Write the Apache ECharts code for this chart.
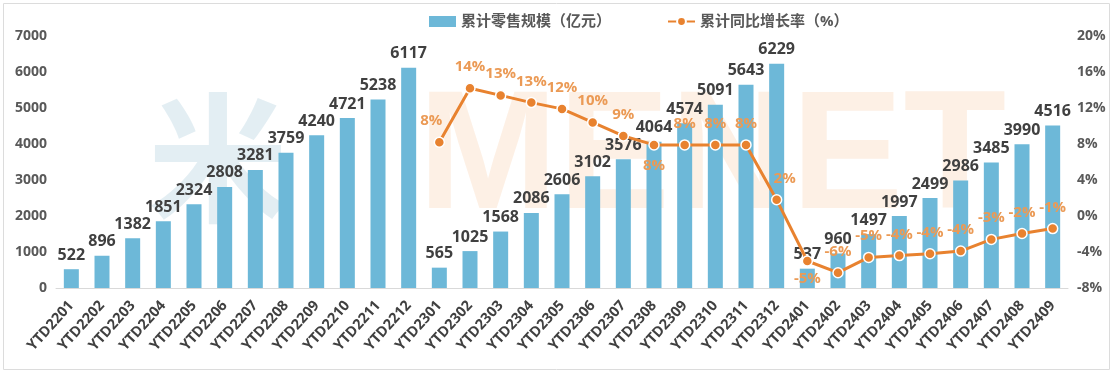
<!DOCTYPE html>
<html>
<head>
<meta charset="utf-8">
<script src="https://cdn.jsdelivr.net/npm/echarts@6/dist/echarts.min.js"></script>
<style>
  html, body { margin: 0; padding: 0; background: #fff; }
  #chart { width: 1114px; height: 375px; }
</style>
</head>
<body>
<div id="chart"></div>
<script>
// months, YTD
const categories = [
  'YTD2201', 'YTD2202', 'YTD2203', 'YTD2204', 'YTD2205', 'YTD2206', 'YTD2207', 'YTD2208', 'YTD2209', 'YTD2210', 'YTD2211', 'YTD2212',
  'YTD2301', 'YTD2302', 'YTD2303', 'YTD2304', 'YTD2305', 'YTD2306', 'YTD2307', 'YTD2308', 'YTD2309', 'YTD2310', 'YTD2311', 'YTD2312',
  'YTD2401', 'YTD2402', 'YTD2403', 'YTD2404', 'YTD2405', 'YTD2406', 'YTD2407', 'YTD2408', 'YTD2409'
]
// 累计零售规模 (亿元)
const retailScale = [
  522, 896, 1382, 1851, 2324, 2808, 3281, 3759, 4240, 4721, 5238, 6117,
  565, 1025, 1568, 2086, 2606, 3102, 3576, 4064, 4574, 5091, 5643, 6229,
  537, 960, 1497, 1997, 2499, 2986, 3485, 3990, 4516
]
// 累计同比增长率 (%), no value for 2022
const yoyGrowth = [
  null, null, null, null, null, null, null, null, null, null, null, null,
  8.2, 14.2, 13.4, 12.6, 11.9, 10.4, 8.9, 7.9, 7.9, 7.9, 7.9, 1.8,
  -5.0, -6.3, -4.6, -4.4, -4.2, -3.9, -2.6, -1.95, -1.4
]
const leftTicks = [0, 7000, 1000]
const rightTicks = [-8, 20, 4]

const font = "'Open Sans', 'Noto Sans CJK SC', sans-serif"
const blue = '#6db8d8'
const orange = '#e8822f'
const labelOrange = '#eb9a55'

// a few labels sit below the point or to a side
const labelTweaks = {
  12: {offset: [-8, 0]},
  19: {position: 'bottom', distance: 8},
  23: {offset: [8, 0]},
  24: {position: 'bottom', distance: 4}
}

let lineData = yoyGrowth.map((v, i) => {
  if (labelTweaks[i]) return {value: v, label: labelTweaks[i]}
  return v
})

var chart = echarts.init(document.getElementById('chart'), null, {renderer: 'canvas'})

var option = {
  animation: false,
  textStyle: {fontFamily: font},
  graphic: [
    {
      type: 'rect', z: 0, silent: true,
      shape: {x: 3.5, y: 3.5, width: 1106, height: 366},
      style: {fill: 'none', stroke: '#dcdcdc', lineWidth: 1}
    },
    {
      type: 'text', z: 0, silent: true, left: 148, top: 88,
      style: {text: '米', font: 'bold 140px "Noto Sans CJK SC"', fill: 'rgba(175,205,222,0.35)'}
    },
    {
      type: 'text', z: 0, silent: true, left: 418, top: 78,
      style: {text: 'MENET', font: 'bold 168px "Liberation Sans"', fill: 'rgba(248,200,160,0.28)'}
    }
  ],
  legend: {
    top: 9,
    left: 424,
    itemGap: 56,
    itemWidth: 27,
    itemHeight: 11,
    textStyle: {fontFamily: font, fontSize: 15, fontWeight: 'bold', color: '#595959'},
    data: [
      {name: '累计零售规模（亿元）', icon: 'rect', itemStyle: {color: blue}},
      {name: '累计同比增长率（%）'}
    ]
  },
  grid: {left: 56, right: 46, top: 36, bottom: 87, containLabel: false},
  xAxis: {
    type: 'category',
    data: categories,
    axisLine: {lineStyle: {color: '#d9d9d9'}},
    axisTick: {show: false},
    axisLabel: {
      interval: 0, rotate: 48, margin: 15, hideOverlap: false,
      fontSize: 14.5, fontWeight: 'bold', color: '#404040', fontFamily: font
    }
  },
  yAxis: [
    {
      type: 'value',
      min: leftTicks[0], max: leftTicks[1], interval: leftTicks[2],
      splitLine: {show: false},
      axisLine: {show: false},
      axisTick: {show: false},
      axisLabel: {fontSize: 14, fontWeight: 'bold', color: '#595959', margin: 9, fontFamily: font,
        formatter: v => String(v)}
    },
    {
      type: 'value',
      min: rightTicks[0], max: rightTicks[1], interval: rightTicks[2],
      splitLine: {show: false},
      axisLine: {show: false},
      axisTick: {show: false},
      axisLabel: {fontSize: 14, fontWeight: 'bold', color: '#595959', margin: 9, fontFamily: font,
        formatter: v => v + '%'}
    }
  ],
  series: [
    {
      name: '累计零售规模（亿元）',
      type: 'bar',
      data: retailScale,
      barWidth: 15,
      itemStyle: {color: blue},
      label: {
        show: true, position: 'top', distance: 6,
        fontSize: 16, fontWeight: 'bold', color: '#404040', fontFamily: font
      }
    },
    {
      name: '累计同比增长率（%）',
      type: 'line',
      yAxisIndex: 1,
      data: lineData,
      connectNulls: false,
      symbol: 'circle',
      symbolSize: 10,
      lineStyle: {color: orange, width: 3},
      itemStyle: {color: orange, borderColor: '#fff', borderWidth: 1.5},
      label: {
        show: true, position: 'top', distance: 8,
        fontSize: 15, fontWeight: 'bold', color: labelOrange, fontFamily: font,
        formatter: p => Math.round(p.value) + '%'
      },
      z: 3
    }
  ]
}

chart.setOption(option)
</script>
</body>
</html>
